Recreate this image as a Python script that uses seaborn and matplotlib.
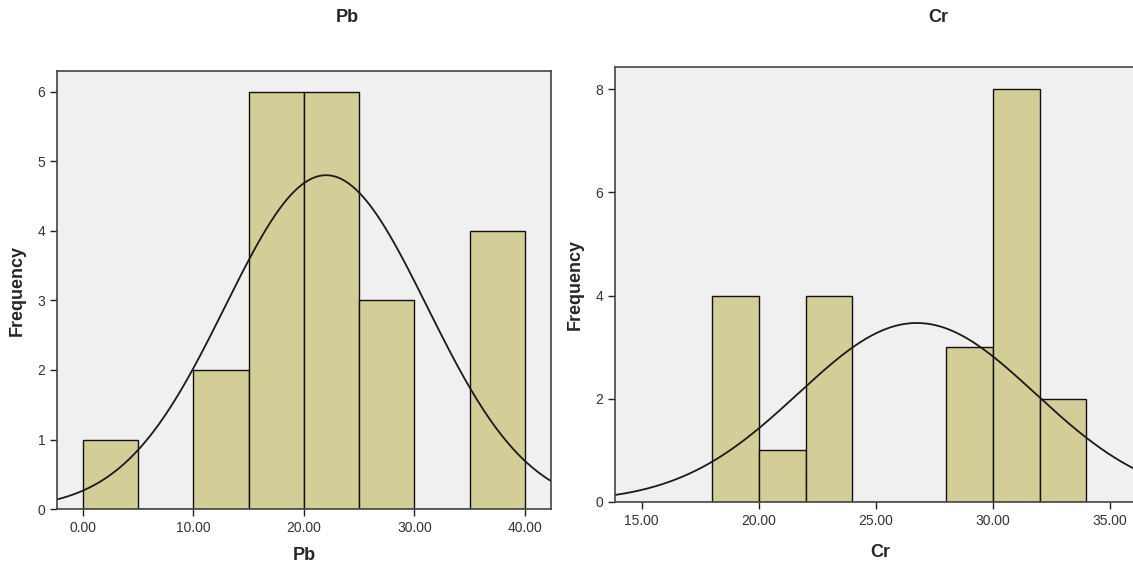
import numpy as np
import pandas as pd
import matplotlib
matplotlib.use("Agg")
import matplotlib.pyplot as plt
import seaborn as sns
from matplotlib.ticker import FormatStrFormatter

# histogram values
pb_edges = [0, 5, 10, 15, 20, 25, 30, 35, 40]
pb_counts = [1, 0, 2, 6, 6, 3, 0, 4]
pb_mean, pb_sd = 22.0, 9.14

cr_edges = [18, 20, 22, 24, 26, 28, 30, 32, 34]
cr_counts = [4, 1, 4, 0, 0, 3, 8, 2]
cr_mean, cr_sd = 26.75, 5.06

pb_xticks = [0, 10, 20, 30, 40]
pb_yticks = [0, 1, 2, 3, 4, 5, 6]
cr_xticks = [15, 20, 25, 30, 35]
cr_yticks = [0, 2, 4, 6, 8]

sns.set_style("ticks")
plt.rcParams['font.family'] = ['Liberation Sans', 'DejaVu Sans']

bar_color = "#D3CE97"
bg_color = "#F0F0F0"

fig = plt.figure(figsize=(11.33, 5.69), dpi=100)
fig.patch.set_facecolor("white")


def draw_panel(ax, edges, counts, mean, sd, xlim, ylim, xticks, yticks, name, xpad):
    ax.set_facecolor(bg_color)
    mids = [(a + b) / 2 for a, b in zip(edges[:-1], edges[1:])]
    df = pd.DataFrame({"x": mids, "w": counts})
    sns.histplot(data=df, x="x", weights="w", bins=edges, color=bar_color,
                 edgecolor="#111111", linewidth=1.0, alpha=1, ax=ax)
    # normal curve scaled to counts
    n = sum(counts)
    width = edges[1] - edges[0]
    xs = np.linspace(xlim[0], xlim[1], 400)
    ys = n * width / (sd * np.sqrt(2 * np.pi)) * np.exp(-(xs - mean) ** 2 / (2 * sd ** 2))
    sns.lineplot(x=xs, y=ys, color="#1a1a1a", linewidth=1.3, ax=ax)
    ax.set_xlim(*xlim)
    ax.set_ylim(*ylim)
    ax.set_xticks(xticks)
    ax.set_yticks(yticks)
    ax.xaxis.set_major_formatter(FormatStrFormatter("%.2f"))
    ax.tick_params(axis="both", direction="out", length=5, width=1,
                   color="#222222", labelsize=10, labelcolor="#333333")
    for s in ax.spines.values():
        s.set_color("#444444")
        s.set_linewidth(1.2)
    ax.set_xlabel(name, fontsize=13, fontweight="bold", labelpad=xpad)
    ax.set_ylabel("Frequency", fontsize=13, fontweight="bold", labelpad=8)


ax1 = fig.add_axes([0.0503, 0.1054, 0.436, 0.7698])
draw_panel(ax1, pb_edges, pb_counts, pb_mean, pb_sd, (-2.35, 42.35), (0, 6.3),
           pb_xticks, pb_yticks, "Pb", 9)

ax2 = fig.add_axes([0.5428, 0.1178, 0.4678, 0.7644])
draw_panel(ax2, cr_edges, cr_counts, cr_mean, cr_sd, (13.86, 36.5), (0, 8.43),
           cr_xticks, cr_yticks, "Cr", 12)

fig.text(347 / 1133, 1 - 17 / 569, "Pb", ha="center", va="center",
         fontsize=13, fontweight="bold")
fig.text(938 / 1133, 1 - 17 / 569, "Cr", ha="center", va="center",
         fontsize=13, fontweight="bold")

fig.savefig("out.png", dpi=100)
